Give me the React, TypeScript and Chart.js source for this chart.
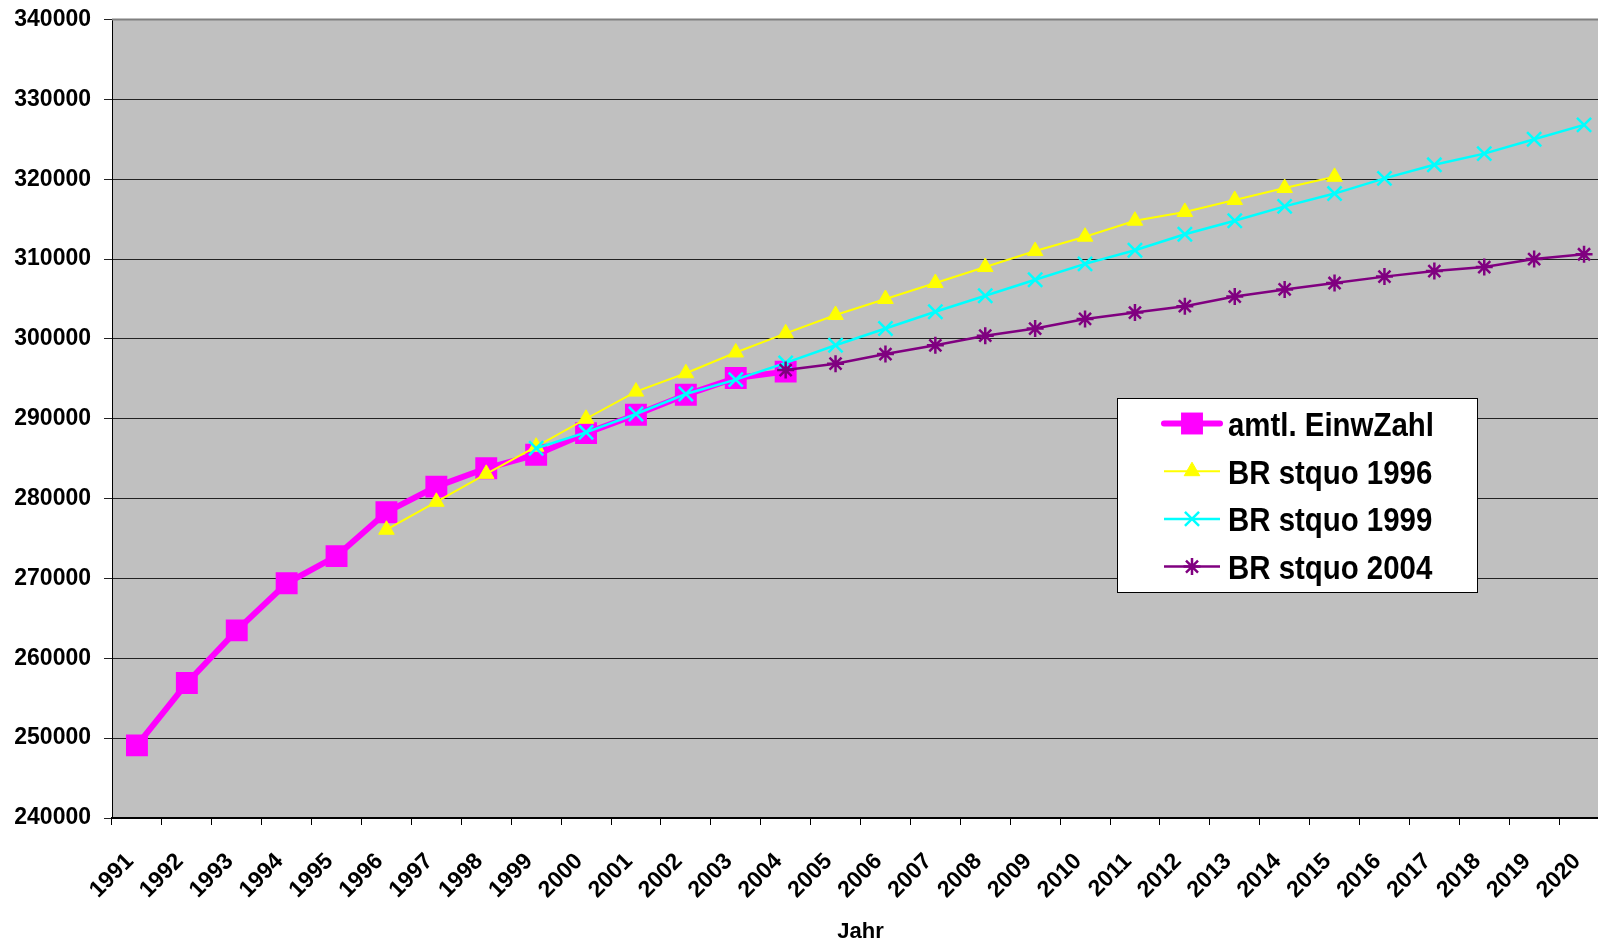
import React, { useEffect, useRef } from "react";
import { Chart, registerables } from "chart.js";
import { drawPoint } from "chart.js/helpers";

Chart.register(...registerables);

const years = [
  "1991", "1992", "1993", "1994", "1995", "1996", "1997", "1998", "1999", "2000",
  "2001", "2002", "2003", "2004", "2005", "2006", "2007", "2008", "2009", "2010",
  "2011", "2012", "2013", "2014", "2015", "2016", "2017", "2018", "2019", "2020",
];

const amtlEinwZahl = [
  249100, 256900, 263500, 269400, 272800, 278300, 281500, 283800, 285500, 288200,
  290500, 293000, 295100, 295900, null, null, null, null, null, null,
  null, null, null, null, null, null, null, null, null, null,
];

const brStquo1996 = [
  null, null, null, null, null, 276100, 279600, 283100, 286500, 290000,
  293400, 295700, 298300, 300700, 303000, 305000, 307000, 309000, 311000, 312800,
  314800, 315900, 317400, 318900, 320300, null, null, null, null, null,
];

const brStquo1999 = [
  null, null, null, null, null, null, null, null, 286300, 288300,
  290600, 293100, 294900, 297000, 299200, 301300, 303400, 305400, 307400, 309400,
  311100, 313100, 314800, 316600, 318200, 320100, 321800, 323200, 325000, 326800,
];

const brStquo2004 = [
  null, null, null, null, null, null, null, null, null, null,
  null, null, null, 296100, 296900, 298100, 299200, 300400, 301300, 302500,
  303300, 304100, 305300, 306200, 307000, 307800, 308500, 309000, 310000, 310600,
];

const seriesLabels = ["amtl. EinwZahl", "BR stquo 1996", "BR stquo 1999", "BR stquo 2004"];
const xTitle = "Jahr";

const FONT = "'Liberation Sans', Arial, sans-serif";

const bgPlugin = {
  id: "plotBg",
  beforeDraw(chart: any) {
    const { ctx, chartArea } = chart;
    ctx.save();
    ctx.fillStyle = "#C0C0C0";
    ctx.fillRect(chartArea.left, chartArea.top, chartArea.right - chartArea.left, chartArea.bottom - chartArea.top);
    ctx.restore();
  },
  afterDraw(chart: any) {
    const { ctx, chartArea } = chart;
    ctx.save();
    ctx.strokeStyle = "#808080";
    ctx.lineWidth = 2;
    ctx.beginPath();
    ctx.moveTo(chartArea.left, chartArea.top);
    ctx.lineTo(chartArea.right, chartArea.top);
    ctx.stroke();
    ctx.restore();
  },
};

const legendPlugin = {
  id: "boxLegend",
  afterDraw(chart: any) {
    const ctx = chart.ctx;
    const x0 = 1117;
    const y0 = 398;
    const w = 360;
    const h = 194;
    ctx.save();
    ctx.fillStyle = "#FFFFFF";
    ctx.fillRect(x0, y0, w, h);
    ctx.strokeStyle = "#000000";
    ctx.lineWidth = 1;
    ctx.strokeRect(x0 + 0.5, y0 + 0.5, w, h);
    chart.data.datasets.forEach((ds: any, i: number) => {
      const cy = y0 + 25.5 + i * 47.7;
      ctx.strokeStyle = ds.borderColor;
      ctx.lineWidth = ds.borderWidth;
      ctx.lineCap = i === 0 ? "round" : "butt";
      ctx.beginPath();
      ctx.moveTo(1164, cy);
      ctx.lineTo(1220, cy);
      ctx.stroke();
      ctx.lineCap = "butt";
      ctx.fillStyle = ds.pointBackgroundColor;
      ctx.strokeStyle = ds.pointBorderColor;
      ctx.lineWidth = ds.pointBorderWidth;
      drawPoint(ctx, { pointStyle: ds.pointStyle, rotation: 0, radius: ds.pointRadius, borderWidth: ds.pointBorderWidth } as any, 1192, cy);
      ctx.save();
      ctx.fillStyle = "#000000";
      ctx.font = `bold 34px ${FONT}`;
      ctx.textBaseline = "alphabetic";
      ctx.textAlign = "left";
      ctx.translate(1228, cy + 12.5);
      ctx.scale(0.865, 1);
      ctx.fillText(ds.label, 0, 0);
      ctx.restore();
    });
    ctx.restore();
  },
};

export default function App() {
  const canvasRef = useRef<HTMLCanvasElement | null>(null);

  useEffect(() => {
    if (!canvasRef.current) return;
    const chart = new Chart(canvasRef.current, {
      type: "line",
      data: {
        labels: years,
        datasets: [
          {
            label: seriesLabels[0],
            data: amtlEinwZahl,
            borderColor: "#FF00FF",
            backgroundColor: "#FF00FF",
            borderWidth: 6,
            pointStyle: "rect",
            pointRadius: 15.5,
            pointBackgroundColor: "#FF00FF",
            pointBorderColor: "#FF00FF",
            pointBorderWidth: 0,
            tension: 0,
            order: 4,
          },
          {
            label: seriesLabels[1],
            data: brStquo1996,
            borderColor: "#FFFF00",
            backgroundColor: "#FFFF00",
            borderWidth: 2,
            pointStyle: "triangle",
            pointRadius: 9,
            pointBackgroundColor: "#FFFF00",
            pointBorderColor: "#FFFF00",
            pointBorderWidth: 1,
            tension: 0,
            order: 3,
          },
          {
            label: seriesLabels[2],
            data: brStquo1999,
            borderColor: "#00FFFF",
            backgroundColor: "#00FFFF",
            borderWidth: 2.5,
            pointStyle: "crossRot",
            pointRadius: 10,
            pointBackgroundColor: "#00FFFF",
            pointBorderColor: "#00FFFF",
            pointBorderWidth: 2.5,
            tension: 0,
            order: 2,
          },
          {
            label: seriesLabels[3],
            data: brStquo2004,
            borderColor: "#800080",
            backgroundColor: "#800080",
            borderWidth: 2.5,
            pointStyle: "star",
            pointRadius: 8.5,
            pointBackgroundColor: "#800080",
            pointBorderColor: "#800080",
            pointBorderWidth: 2.5,
            tension: 0,
            order: 1,
          },
        ],
      },
      options: {
        animation: false,
        responsive: false,
        maintainAspectRatio: false,
        devicePixelRatio: 1,
        layout: { padding: { left: 0, top: 19.5, right: 31, bottom: 0 } },
        plugins: {
          legend: { display: false },
          tooltip: { enabled: false },
        },
        scales: {
          x: {
            type: "category",
            offset: true,
            grid: {
              display: true,
              offset: true,
              drawOnChartArea: false,
              drawTicks: true,
              tickLength: 7,
              color: "#000000",
            },
            border: { display: true, color: "#000000", width: 2 },
            ticks: {
              autoSkip: false,
              minRotation: 45,
              maxRotation: 45,
              padding: 23,
              labelOffset: -7,
              color: "#000000",
              font: { family: FONT, size: 23, weight: "bold" },
            },
            title: {
              display: true,
              text: xTitle,
              color: "#000000",
              font: { family: FONT, size: 22, weight: "bold" },
              padding: { top: 0, bottom: 2 },
            },
            afterFit(scale: any) {
              scale.height = 129;
              scale.paddingLeft = 0;
              scale.paddingRight = 0;
            },
          },
          y: {
            min: 240000,
            max: 340000,
            grid: {
              color: "#222222",
              lineWidth: 1,
              tickLength: 8,
            },
            border: { display: true, color: "#000000", width: 1 },
            ticks: {
              stepSize: 10000,
              padding: 13,
              color: "#000000",
              font: { family: FONT, size: 23, weight: "bold" },
              callback: (v: any) => String(v),
            },
            afterFit(scale: any) {
              scale.width = 112;
              scale.paddingTop = 0;
              scale.paddingBottom = 0;
            },
          },
        },
      },
      plugins: [bgPlugin, legendPlugin],
    });
    return () => chart.destroy();
  }, []);

  return (
    <div style={{ position: "fixed", left: 0, top: 0, width: 1598, height: 947, overflow: "hidden", background: "#FFFFFF" }}>
      <canvas ref={canvasRef} width={1640} height={947} style={{ width: 1640, height: 947, display: "block" }} />
    </div>
  );
}
